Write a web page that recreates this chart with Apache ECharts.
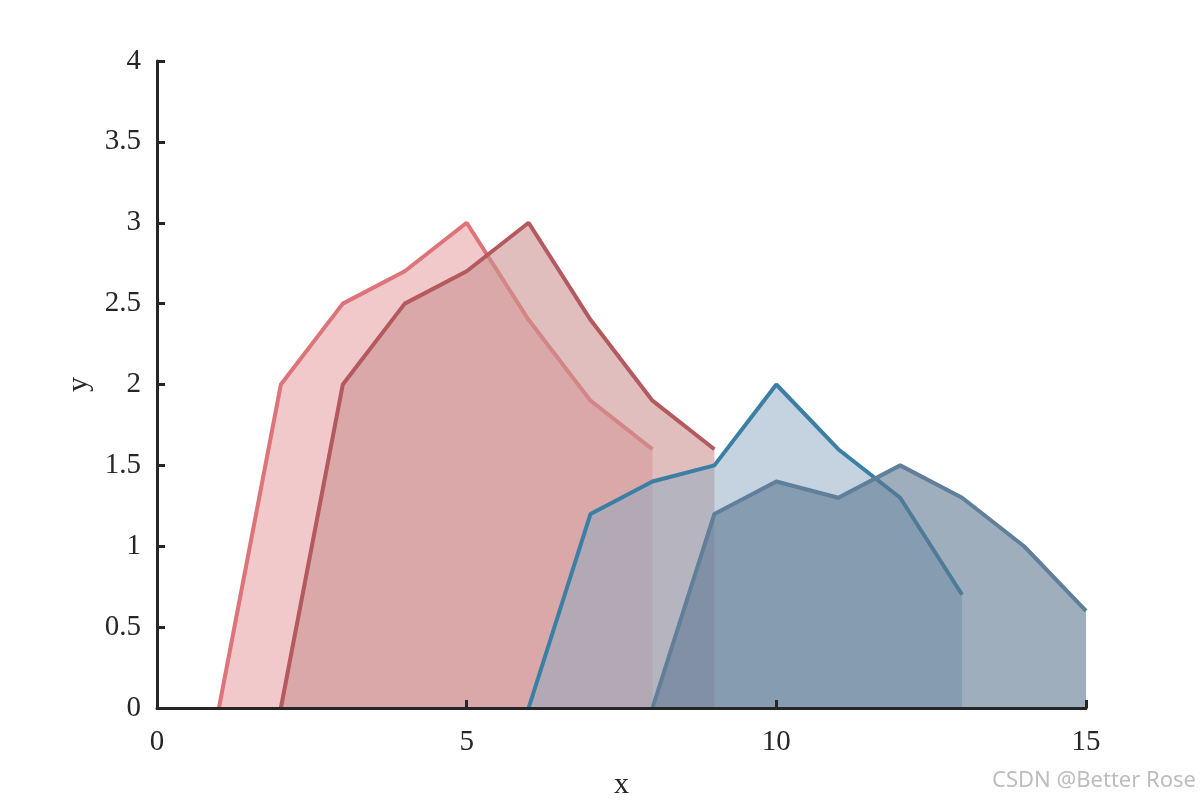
<!DOCTYPE html>
<html>
<head>
<meta charset="utf-8">
<script src="https://cdn.jsdelivr.net/npm/echarts@6/dist/echarts.min.js"></script>
<style>html,body{margin:0;padding:0;background:#fff;}#c{width:1200px;height:800px;}</style>
</head>
<body>
<div id="c"></div>
<script>
const x1 = [1, 2, 3, 4, 5, 6, 7, 8];
const y1 = [0, 2, 2.5, 2.7, 3, 2.4, 1.9, 1.6];
const x2 = [2, 3, 4, 5, 6, 7, 8, 9];
const y2 = [0, 2, 2.5, 2.7, 3, 2.4, 1.9, 1.6];
const x3 = [6, 7, 8, 9, 10, 11, 12, 13];
const y3 = [0, 1.2, 1.4, 1.5, 2, 1.6, 1.3, 0.7];
const x4 = [8, 9, 10, 11, 12, 13, 14, 15];
const y4 = [0, 1.2, 1.4, 1.3, 1.5, 1.3, 1.0, 0.6];
const xTicks = [0, 5, 10, 15];
const yTicks = [0, 0.5, 1, 1.5, 2, 2.5, 3, 3.5, 4];

const lineColors = ['#dc7479', '#b45a5e', '#3b7fa5', '#5f7f9a'];
const fillColors = ['rgba(221,113,118,0.38)', 'rgba(203,147,145,0.6)', 'rgba(141,171,193,0.52)', 'rgba(94,120,145,0.6)'];

function pairs(xs, ys) { return xs.map((x, i) => [x, ys[i]]); }
const seriesData = [pairs(x1, y1), pairs(x2, y2), pairs(x3, y3), pairs(x4, y4)];

const font = 'Liberation Serif';
const axisColor = '#262626';

const chart = echarts.init(document.getElementById('c'));
chart.setOption({
  animation: false,
  textStyle: { fontFamily: font },
  grid: { left: 157, right: 114, top: 61, bottom: 92, containLabel: false, outerBoundsMode: 'none' },
  xAxis: {
    type: 'value', min: 0, max: 15, interval: 5, z: 20,
    name: 'x', nameLocation: 'middle', nameGap: 62,
    nameTextStyle: { fontFamily: font, fontSize: 30, color: axisColor },
    axisLine: { show: true, onZero: false, lineStyle: { color: axisColor, width: 3 } },
    axisTick: { show: true, inside: true, length: 8, lineStyle: { color: axisColor, width: 3 } },
    axisLabel: { fontFamily: font, fontSize: 29, color: axisColor, margin: 20 },
    splitLine: { show: false }
  },
  yAxis: {
    type: 'value', min: 0, max: 4, interval: 0.5, z: 20,
    name: 'y', nameLocation: 'middle', nameGap: 62, nameRotate: 90,
    nameTextStyle: { fontFamily: font, fontSize: 30, color: axisColor },
    axisLine: { show: true, onZero: false, lineStyle: { color: axisColor, width: 3 } },
    axisTick: { show: true, inside: true, length: 8, lineStyle: { color: axisColor, width: 3 } },
    axisLabel: { fontFamily: font, fontSize: 29, color: axisColor, margin: 16 },
    splitLine: { show: false }
  },
  series: seriesData.map((d, i) => ({
    type: 'line',
    data: d,
    symbol: 'none',
    lineStyle: { color: lineColors[i], width: 4 },
    areaStyle: { color: fillColors[i], origin: 'start', opacity: 1 },
    z: 2 + i
  })),
  graphic: [{
    type: 'text', right: 4, bottom: 8,
    style: { text: 'CSDN @Better Rose', fontFamily: 'Noto Sans', fontSize: 22, fill: '#bdbdbd' }
  }]
});
</script>
</body>
</html>
